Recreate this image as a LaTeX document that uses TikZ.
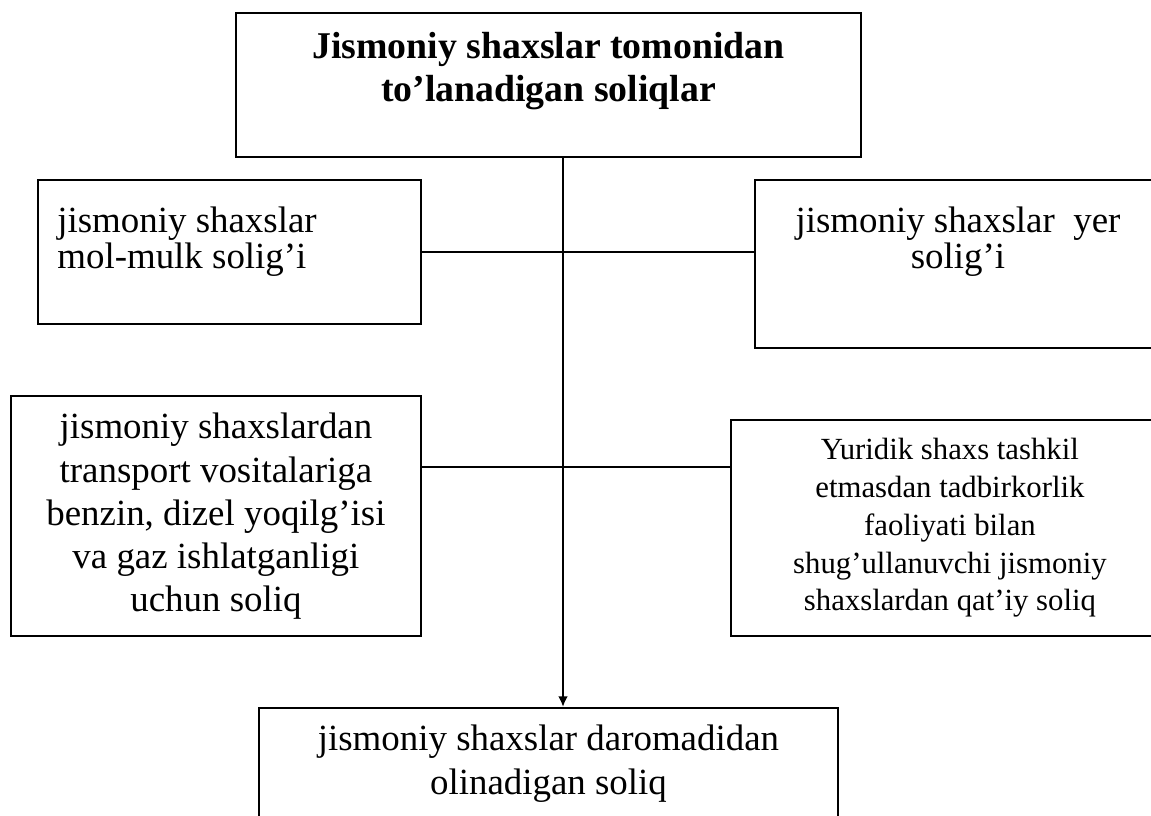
\documentclass[tikz,border=0pt]{standalone}
\usepackage{fontspec}
\setmainfont{Liberation Serif}
\usetikzlibrary{positioning,arrows.meta}

\begin{document}
\begin{tikzpicture}[box/.style={draw=black,line width=1.1pt,anchor=north west,inner sep=0pt},
                    txt/.style={inner sep=0pt,align=center,font=\fontsize{21}{24.5}\selectfont},
                    link/.style={line width=0.9pt}]
                      \useasboundingbox (0,0) rectangle (23.02,-16.32);

                      \node (top) at (4.70,-0.24) [box,minimum width=12.5cm,minimum height=2.88cm] {};
                      \node (mol) at (0.74,-3.58) [box,minimum width=7.66cm,minimum height=2.88cm] {};
                      \node (yer) at (15.08,-3.58) [box,minimum width=8.12cm,minimum height=3.36cm] {};
                      \node (transport) at (0.20,-7.90) [box,minimum width=8.2cm,minimum height=4.8cm] {};
                      \node (qatiy) at (14.60,-8.38) [box,minimum width=8.76cm,minimum height=4.32cm] {};
                      \node (daromad) at (5.16,-14.14) [box,minimum width=11.58cm,minimum height=2.6cm] {};

                      \node (toptxt) [txt,font=\bfseries\fontsize{21.5}{24.5}\selectfont,below=0.4cm of top.north] {Jismoniy shaxslar tomonidan\\to’lanadigan soliqlar};
                      \node (moltxt) [txt,align=left,font=\fontsize{21}{20}\selectfont,below right=0.56cm and 0.4cm of mol.north west] {jismoniy shaxslar\\mol-mulk solig’i};
                      \node (yertxt) [txt,font=\fontsize{21}{20}\selectfont,below=0.56cm of yer.north] {jismoniy shaxslar\ \ yer\\solig’i};
                      \node (transporttxt) [txt,below=0.36cm of transport.north] {jismoniy shaxslardan\\transport vositalariga\\benzin, dizel yoqilg’isi\\va gaz ishlatganligi\\uchun soliq};
                      \node (qatiytxt) [txt,font=\fontsize{17.5}{21.5}\selectfont,below=0.38cm of qatiy.north] {Yuridik shaxs tashkil\\etmasdan tadbirkorlik\\faoliyati bilan\\shug’ullanuvchi jismoniy\\shaxslardan qat’iy soliq};
                      \node (daromadtxt) [txt,below=0.36cm of daromad.north] {jismoniy shaxslar daromadidan\\olinadigan soliq};

                      % trunk and branches
                      \coordinate (spine) at (11.26,0);
                      \coordinate (j2) at (11.26,-9.34);
                      \draw[link,line width=1.2pt,-{Latex[length=6pt,width=5.5pt]}] (top.south -| spine) -- (daromad.north -| spine);
                      \draw[link] (mol.east) -- (yer.west |- mol.east);
                      \draw[link] (transport.east |- j2) -- (qatiy.west |- j2);
                \end{tikzpicture}
\end{document}
